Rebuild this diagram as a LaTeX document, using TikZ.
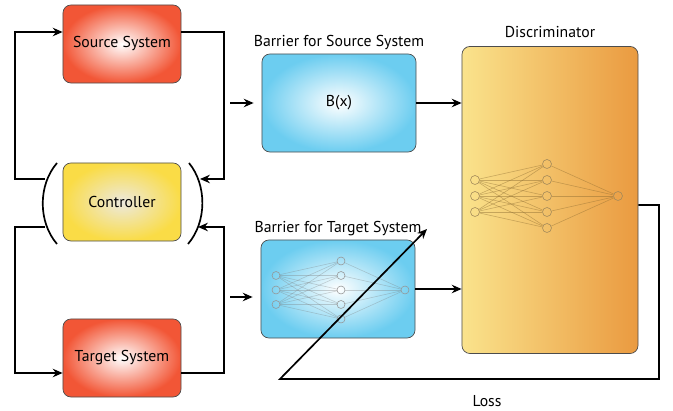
\documentclass[tikz,border=0pt]{standalone}
\usepackage{fontspec}
\setmainfont{PT Sans}
\usetikzlibrary{arrows.meta,positioning,calc}
\definecolor{sysred}{HTML}{F25636}
\definecolor{ctlyellow}{HTML}{FADC46}
\definecolor{ctlcenter}{HTML}{ECE9DE}
\definecolor{barblue}{HTML}{6CCDF0}
\definecolor{discleft}{HTML}{FAE38C}
\definecolor{discright}{HTML}{EA9A40}
\definecolor{netgray}{HTML}{7A7A7A}
\definecolor{netbrown}{HTML}{8A6A30}

\tikzset{
  txt/.style={font=\fontsize{11.2}{13}\selectfont},
  block/.style={draw=black!70,line width=0.5pt,rounded corners=0.2cm,inner sep=0pt,txt},
  sysbox/.style={block,inner color=white,outer color=sysred,minimum width=2.95cm,minimum height=1.95cm},
  ctlbox/.style={block,inner color=ctlcenter,outer color=ctlyellow,minimum width=2.95cm,minimum height=1.95cm},
  barbox/.style={block,inner color=white,outer color=barblue,minimum width=3.85cm,minimum height=2.45cm},
  discbox/.style={block,left color=discleft,right color=discright,minimum width=4.4cm,minimum height=7.675cm},
  lbl/.style={inner sep=0pt,txt},
  flow/.style={line width=1.2pt,-{Stealth[length=7pt,width=6pt]}},
  wire/.style={line width=1.2pt},
  neuron/.style={circle,draw,line width=0.4pt,inner sep=0pt,minimum size=#1},
}

\begin{document}
\begin{tikzpicture}[x=0.025cm,y=-0.025cm]
\useasboundingbox (0,0) rectangle (673,411);

% plants and controller
\node[sysbox] (src) at (122,44) {Source System};
\node[ctlbox] (ctl) at (122,202) {Controller};
\node[sysbox] (tgt) at (122,358) {Target System};

% barriers and discriminator
\node[barbox] (bsrc) at (339,103) {B(x)};
\node[barbox] (btgt) at (338,289) {};
\node[discbox] (disc) at (550,200) {};
\node[lbl,above=0.1cm of bsrc] (bsrclbl) {Barrier for Source System};
\node[lbl,above=0.1cm of btgt] (btgtlbl) {Barrier for Target System};
\node[lbl,above=0.2cm of disc] (disclbl) {Discriminator};

% levels of the loop wires
\coordinate (hi) at (0,32);
\coordinate (lo) at (0,373);
\coordinate (lbu) at (45,179);
\coordinate (lbl) at (45,227);
\coordinate (rbu) at (200,179);
\coordinate (rbl) at (198,227);
\coordinate (srcout) at (230,103);
\coordinate (tgtout) at (230,297);

% brackets round the controller
\draw[wire] (57,163) .. controls (38,185) and (38,222) .. (57,244);
\draw[wire] (189,163) .. controls (207,185) and (207,222) .. (188,244);

% closed loops
\draw[flow] (lbu) -- (15,179) -- (15,32) -- (src.west |- hi);
\draw[flow] (src.east |- hi) -- (224,32) -- (224,179) -- (rbu);
\draw[flow] (lbl) -- (15,227) -- (15,373) -- (tgt.west |- lo);
\draw[flow] (tgt.east |- lo) -- (224,373) -- (224,227) -- (rbl);

% into the barriers and the discriminator
\draw[flow,shorten >=0.2cm] (srcout) -- (srcout -| bsrc.west);
\draw[flow,shorten >=0.2cm] (tgtout) -- (tgtout -| btgt.west);
\draw[flow] (bsrc.east) -- (bsrc.east -| disc.west);
\draw[flow] (btgt.east) -- (btgt.east -| disc.west);

% network inside the discriminator
\foreach \i in {1,2,3} \node[neuron=0.225cm,draw=netbrown!80] (din\i) at (475,164+16*\i) {};
\foreach \j in {1,...,5} \node[neuron=0.225cm,draw=netbrown!80] (dhid\j) at (547,148+16*\j) {};
\node[neuron=0.225cm,draw=netbrown!80] (dout) at (618,196) {};
\foreach \i in {1,2,3} \foreach \j in {1,...,5} \draw[netbrown,opacity=0.45,line width=0.4pt] (din\i) -- (dhid\j);
\foreach \j in {1,...,5} \draw[netbrown,opacity=0.45,line width=0.4pt] (dhid\j) -- (dout);

% network inside the target barrier
\foreach \i in {1,2,3} \node[neuron=0.2cm,draw=netgray!80] (tin\i) at (276,275.5+14.5*\i-14.5) {};
\foreach \j in {1,...,5} \node[neuron=0.2cm,draw=netgray!80] (thid\j) at (341,246.5+14.5*\j) {};
\node[neuron=0.2cm,draw=netgray!80] (tout) at (405,290) {};
\foreach \i in {1,2,3} \foreach \j in {1,...,5} \draw[netgray,opacity=0.35,line width=0.4pt] (tin\i) -- (thid\j);
\foreach \j in {1,...,5} \draw[netgray,opacity=0.35,line width=0.4pt] (thid\j) -- (tout);

% loss fed back to the target barrier
\coordinate (lossy) at (0,205);
\coordinate (lossend) at (427,229);
\draw[flow] (disc.east |- lossy) -- (659,205) -- (659,379) -- (280,379) -- (lossend);
\node[lbl] (loss) at (487,401) {Loss};
\end{tikzpicture}
\end{document}
